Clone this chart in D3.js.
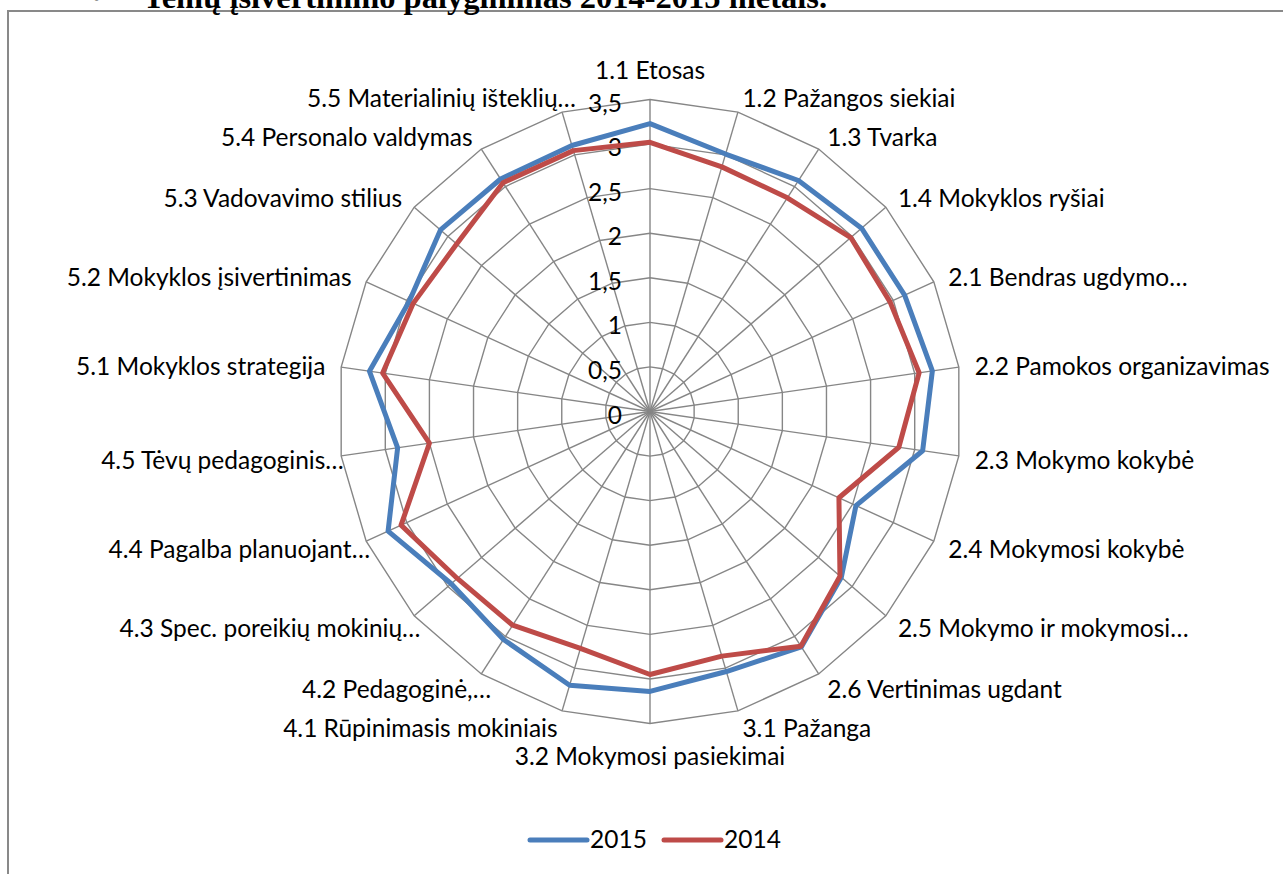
<!DOCTYPE html>
<html>
<head>
<meta charset="utf-8">
<script src="https://cdn.jsdelivr.net/npm/d3@7"></script>
<style>
  html, body { margin: 0; padding: 0; background: #fff; }
  svg { display: block; }
</style>
</head>
<body>
<svg id="chart" width="1283" height="874"></svg>
<script>
const title = "Temų įsivertinimo palyginimas 2014-2015 metais.";
const categories = [
  "1.1 Etosas", "1.2 Pažangos siekiai", "1.3 Tvarka", "1.4 Mokyklos ryšiai",
  "2.1 Bendras ugdymo…", "2.2 Pamokos organizavimas", "2.3 Mokymo kokybė",
  "2.4 Mokymosi kokybė", "2.5 Mokymo ir mokymosi…", "2.6 Vertinimas ugdant",
  "3.1 Pažanga", "3.2 Mokymosi pasiekimai", "4.1 Rūpinimasis mokiniais",
  "4.2 Pedagoginė,…", "4.3 Spec. poreikių mokinių…", "4.4 Pagalba planuojant…",
  "4.5 Tėvų pedagoginis…", "5.1 Mokyklos strategija", "5.2 Mokyklos įsivertinimas",
  "5.3 Vadovavimo stilius", "5.4 Personalo valdymas", "5.5 Materialinių išteklių…"
];
const values2015 = [3.23, 3.01, 3.08, 3.14, 3.14, 3.20, 3.09, 2.54, 2.84, 3.14, 3.04,
                    3.14, 3.20, 3.04, 2.95, 3.23, 2.86, 3.18, 2.97, 3.11, 3.10, 3.11];
const values2014 = [3.02, 2.86, 2.85, 2.98, 2.96, 3.05, 2.82, 2.33, 2.82, 3.13, 2.86,
                    2.95, 2.77, 2.85, 2.86, 3.07, 2.50, 3.03, 2.92, 2.87, 3.05, 3.05];
const seriesNames = ["2015", "2014"];
const tickValues = [0, 0.5, 1, 1.5, 2, 2.5, 3, 3.5];
const tickLabels = ["0", "0,5", "1", "1,5", "2", "2,5", "3", "3,5"];

const colors = { "2015": "#4a7ebb", "2014": "#be4b48" };
const FONT = "Lato, 'Open Sans', sans-serif";
const FS = 24.5;
const cx = 650, cy = 411.5, R = 312;

const svg = d3.select("#chart");

// frame & title
svg.append("line").attr("x1", 8).attr("x2", 1283).attr("y1", 11).attr("y2", 11)
  .attr("stroke", "#898989").attr("stroke-width", 2);
svg.append("line").attr("x1", 8).attr("x2", 8).attr("y1", 10).attr("y2", 874)
  .attr("stroke", "#898989").attr("stroke-width", 2);
svg.append("text").attr("x", 91).attr("y", 8).text("•")
  .attr("font-family", "'Liberation Serif', serif").attr("font-size", 32).attr("fill", "#000");
svg.append("text").attr("x", 143).attr("y", 7.5).text(title)
  .attr("font-family", "'Liberation Serif', 'Times New Roman', serif")
  .attr("font-weight", "bold").attr("font-size", 32.5).attr("fill", "#000");

const n = categories.length;
const angle = d3.scaleLinear().domain([0, n]).range([0, 2 * Math.PI]);
const r = d3.scaleLinear().domain([0, 3.5]).range([0, R]);
const pt = (i, v) => [cx + r(v) * Math.sin(angle(i)), cy - r(v) * Math.cos(angle(i))];

const grid = svg.append("g");
// rings
tickValues.filter(t => t > 0).forEach(t => {
  grid.append("polygon")
    .attr("points", d3.range(n).map(i => pt(i, t).join(",")).join(" "))
    .attr("fill", "none").attr("stroke", "#868686").attr("stroke-width", 1.4);
});
// spokes
d3.range(n).forEach(i => {
  const p = pt(i, 3.5);
  grid.append("line").attr("x1", cx).attr("y1", cy).attr("x2", p[0]).attr("y2", p[1])
    .attr("stroke", "#868686").attr("stroke-width", 1.4);
});

// tick labels
tickValues.forEach((t, k) => {
  svg.append("text").attr("x", cx - 28).attr("y", cy - r(t) + 12)
    .attr("text-anchor", "end").attr("font-family", FONT).attr("font-size", FS)
    .attr("fill", "#000").text(tickLabels[k]);
});

// series
const line = d3.line().curve(d3.curveLinearClosed);
[["2015", values2015], ["2014", values2014]].forEach(([name, vals]) => {
  svg.append("path")
    .attr("d", line(vals.map((v, i) => pt(i, v))))
    .attr("fill", "none").attr("stroke", colors[name]).attr("stroke-width", 5)
    .attr("stroke-linejoin", "round");
});

// category labels
const measure = svg.append("text").attr("font-family", FONT).attr("font-size", FS)
  .attr("visibility", "hidden").text("…");
const ellW = measure.node().getComputedTextLength();
measure.remove();

categories.forEach((c, i) => {
  const a = angle(i), s = Math.sin(a), co = Math.cos(a);
  const vx = cx + R * s, vy = cy - R * co;
  const ax = vx + 16 * s, ay = vy - 16 * co;
  let anchor, x = ax, capC;
  if (Math.abs(s) < 0.01) {
    anchor = "middle";
    capC = co > 0 ? ay - 13 : ay + 17;
  } else if (s > 0) {
    anchor = "start";
    capC = ay + 2;
  } else {
    anchor = "end";
    capC = ay + 2;
    if (c.endsWith("…")) x = ax + ellW;
  }
  svg.append("text").attr("x", x).attr("y", capC + 8.5)
    .attr("text-anchor", anchor).attr("font-family", FONT).attr("font-size", FS)
    .attr("fill", "#000").text(c);
});

// legend
const legend = svg.append("g");
const legX = [530, 664];
seriesNames.forEach((name, k) => {
  legend.append("line").attr("x1", legX[k]).attr("x2", legX[k] + 57)
    .attr("y1", 840).attr("y2", 840)
    .attr("stroke", colors[name]).attr("stroke-width", 5).attr("stroke-linecap", "round");
  legend.append("text").attr("x", legX[k] + 60).attr("y", 848)
    .attr("font-family", FONT).attr("font-size", FS).attr("fill", "#000").text(name);
});
</script>
</body>
</html>
